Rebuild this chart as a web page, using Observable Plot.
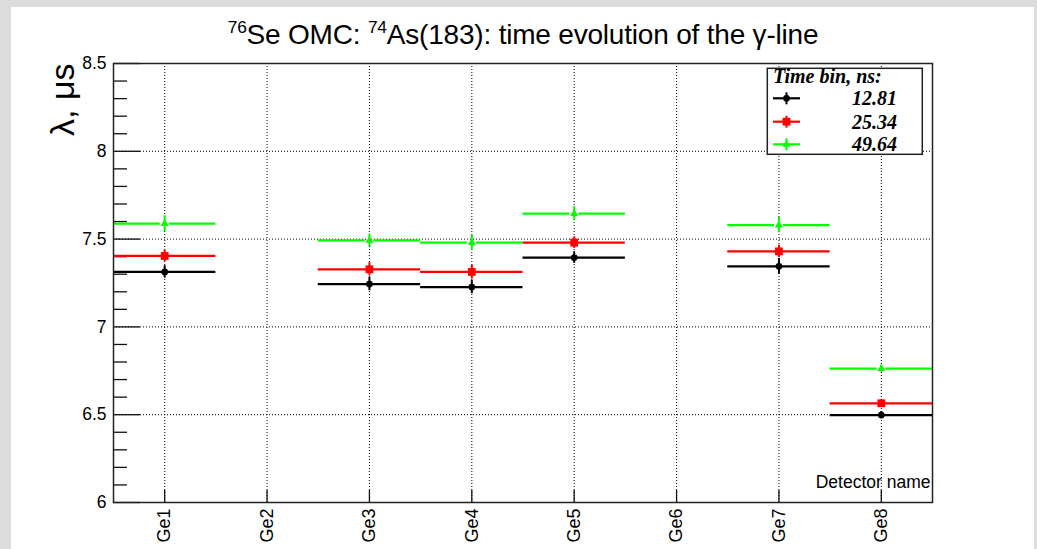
<!DOCTYPE html>
<html><head><meta charset="utf-8">
<script src="https://cdn.jsdelivr.net/npm/d3@7"></script>
<script src="https://cdn.jsdelivr.net/npm/@observablehq/plot@0.6"></script>
<style>
html,body{margin:0;padding:0;background:#dcdcdc;}
#wrap{position:relative;width:1037px;height:549px;overflow:hidden;background:#dcdcdc;}
#panel{position:absolute;left:11px;top:7px;width:1023px;height:542px;background:#fff;}
#panel svg{display:block;}
#title{position:absolute;left:0;top:21px;width:1046px;text-align:center;font-family:"Liberation Sans",Arial,sans-serif;font-size:28px;line-height:28px;color:#000;white-space:nowrap;letter-spacing:-0.2px;}
#title sup{font-size:62%;vertical-align:0;position:relative;top:-0.62em;}
#legend{position:absolute;left:0;top:0;}
</style>
</head><body>
<div id="wrap"><div id="panel"></div><div id="title"><sup>76</sup>Se OMC: <sup>74</sup>As(183): time evolution of the γ-line</div></div>
<script>
// ---- data ----
const detectors = ["Ge1","Ge2","Ge3","Ge4","Ge5","Ge6","Ge7","Ge8"];
const binLabels = ["12.81","25.34","49.64"];
const lambda12 = [7.313, null, 7.244, 7.227, 7.395, null, 7.345, 6.498];
const err12    = [0.035, null, 0.038, 0.038, 0.033, null, 0.045, 0.020];
const lambda25 = [7.404, null, 7.328, 7.313, 7.480, null, 7.430, 6.565];
const err25    = [0.033, null, 0.038, 0.040, 0.033, null, 0.035, 0.020];
const lambda49 = [7.588, null, 7.493, 7.480, 7.645, null, 7.580, 6.762];
const err49    = [0.046, null, 0.036, 0.043, 0.040, null, 0.044, 0.020];
const yMajorTicks = [6, 6.5, 7, 7.5, 8, 8.5];
const yGridTicks = [6.5, 7, 7.5, 8];
const yMinorTicks = d3.range(60, 86).map(v => v / 10).filter(v => Math.abs(v * 2 - Math.round(v * 2)) > 1e-6);
const xTicks = detectors.map((d, i) => i + 0.5);

// ---- build table ----
const seriesDefs = [
  {label: binLabels[0], values: lambda12, errors: err12, color: "#000000", symbol: "circle", r: 3.4, gap: 0},
  {label: binLabels[1], values: lambda25, errors: err25, color: "#ff0000", symbol: "square", r: 4.4, gap: 0},
  {label: binLabels[2], values: lambda49, errors: err49, color: "#00ff00", symbol: "triangle", r: 3.0, gap: 4.5}
];
function rowsOf(s) {
  const out = [];
  s.values.forEach((v, i) => {
    if (v == null) return;
    out.push({det: detectors[i], xlo: i, xc: i + 0.5, xhi: i + 1, y: v, e: s.errors[i]});
  });
  return out;
}

const W = 1023, H = 542, mL = 102, mR = 102, mT = 56, mB = 47;
const plotW = W - mL - mR, plotH = H - mT - mB;

const marks = [
  Plot.ruleX(xTicks, {x: d => d, stroke: "#000", strokeWidth: 1, strokeDasharray: "1,2"}),
  Plot.ruleY(yGridTicks, {y: d => d, stroke: "#000", strokeWidth: 1, strokeDasharray: "1,2"}),
  Plot.tickY(yMajorTicks, {y: d => d, stroke: "#111", strokeWidth: 1.3, insetRight: plotW - 27}),
  Plot.tickY(yMinorTicks, {y: d => d, stroke: "#111", strokeWidth: 1.3, insetRight: plotW - 14}),
  Plot.tickX(xTicks, {x: d => d, stroke: "#111", strokeWidth: 1.3, insetTop: plotH - 12})
];
for (const s of seriesDefs) {
  const rows = rowsOf(s);
  if (s.gap > 0) {
    marks.push(Plot.ruleY(rows, {y: "y", x1: "xlo", x2: "xc", insetRight: s.gap, stroke: s.color, strokeWidth: 2.2}));
    marks.push(Plot.ruleY(rows, {y: "y", x1: "xc", x2: "xhi", insetLeft: s.gap, stroke: s.color, strokeWidth: 2.2}));
  } else {
    marks.push(Plot.ruleY(rows, {y: "y", x1: "xlo", x2: "xhi", stroke: s.color, strokeWidth: 2.2}));
  }
  marks.push(Plot.ruleX(rows, {x: "xc", y1: d => d.y - d.e, y2: d => d.y + d.e, stroke: s.color, strokeWidth: 2}));
  marks.push(Plot.dot(rows, {x: "xc", y: "y", symbol: s.symbol, r: s.r, fill: s.color, stroke: "none"}));
}
marks.push(
  Plot.frame({stroke: "#222", strokeWidth: 1.5}),
  Plot.axisY({ticks: yMajorTicks, tickFormat: d => String(d), tickSize: 0, tickPadding: 7, fontSize: 17.5, label: null}),
  Plot.axisX({ticks: xTicks, tickFormat: d => detectors[Math.round(d - 0.5)], tickSize: 0, tickPadding: 6, tickRotate: -90, fontSize: 18, label: null}),
  Plot.text(["Detector name"], {text: d => d, frameAnchor: "bottom-right", textAnchor: "end", lineAnchor: "bottom", dx: -2, dy: -15, fontSize: 17.5, fill: "#000"}),
  Plot.text(["λ, μs"], {text: d => d, frameAnchor: "top-left", rotate: -90, textAnchor: "end", lineAnchor: "middle", dx: -50, dy: 0, fontSize: 34, fill: "#000"})
);

const chart = Plot.plot({
  width: W, height: H,
  marginLeft: mL, marginRight: mR, marginTop: mT, marginBottom: mB,
  x: {domain: [0, 8]},
  y: {domain: [6, 8.5]},
  style: {fontFamily: "'Liberation Sans', Arial, sans-serif", background: "white", color: "black", overflow: "visible"},
  marks
});
document.getElementById("panel").appendChild(chart);

// ---- legend ----
const lg = d3.select("#wrap").append("svg").attr("id", "legend").attr("width", 1037).attr("height", 549);
lg.append("rect").attr("x", 767.3).attr("y", 68.3).attr("width", 155).attr("height", 86)
  .attr("fill", "#fff").attr("stroke", "#222").attr("stroke-width", 1.5);
const serif = "'Liberation Serif','Times New Roman',serif";
lg.append("text").attr("x", 773).attr("y", 83).text("Time bin, ns:")
  .attr("font-family", serif).attr("font-weight", "bold").attr("font-style", "italic").attr("font-size", 20);
const legendY = [98.3, 121.7, 144.3];
seriesDefs.forEach((s, k) => {
  const y = legendY[k], cx = 786.5;
  lg.append("line").attr("x1", 773).attr("x2", 800).attr("y1", y).attr("y2", y).attr("stroke", s.color).attr("stroke-width", 2.2);
  lg.append("line").attr("x1", cx).attr("x2", cx).attr("y1", y - 6).attr("y2", y + 6).attr("stroke", s.color).attr("stroke-width", 2);
  const sym = {circle: d3.symbolCircle, square: d3.symbolSquare, triangle: d3.symbolTriangle}[s.symbol];
  lg.append("path").attr("d", d3.symbol(sym, Math.PI * s.r * s.r)()).attr("transform", `translate(${cx},${y})`).attr("fill", s.color);
  lg.append("text").attr("x", 897).attr("y", y + 7).attr("text-anchor", "end").text(s.label)
    .attr("font-family", serif).attr("font-weight", "bold").attr("font-style", "italic").attr("font-size", 20);
});
</script>
</body></html>
